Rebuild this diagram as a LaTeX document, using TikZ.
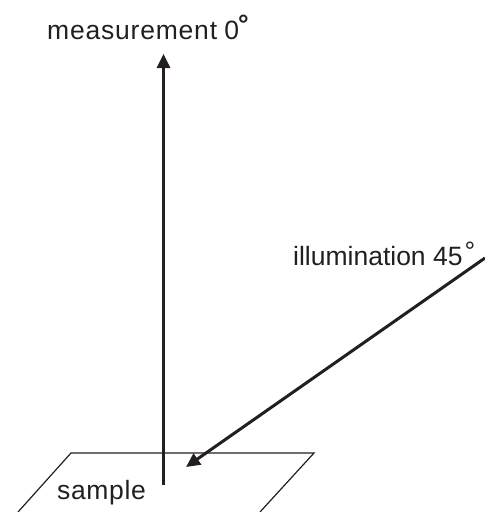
\documentclass[tikz,border=0pt]{standalone}
\usepackage{fontspec}
\setmainfont{Liberation Sans}
\usetikzlibrary{arrows.meta}
\definecolor{ink}{HTML}{231F20}
\tikzset{
  lab/.style={inner sep=0pt,anchor=base west,text=ink,font=\fontsize{26.5}{30}\selectfont},
  plate/.style={draw=ink,line width=1.2pt},
  ray/.style={draw=ink,line width=3pt,-{Triangle[length=14pt,width=13pt]}}
}
\begin{document}
\begin{tikzpicture}[x=1pt,y=-1pt]
\useasboundingbox (0,0) rectangle (485,512);
\coordinate (p1) at (18,512);
\coordinate (p2) at (71,453);
\coordinate (p3) at (314,453);
\coordinate (p4) at (260,512);
\draw[plate] (p1) -- (p2) -- (p3) -- (p4);
\coordinate (mstart) at (163.5,485);
\coordinate (mend) at (163.5,54);
\coordinate (istart) at (485,258);
\coordinate (iend) at (186,467);
\draw[ray] (mstart) -- (mend);
\draw[ray] (istart) -- (iend);
\node[lab] (m) at (47,39) {\addfontfeature{LetterSpace=3}measurement\kern-1pt\ {\addfontfeature{LetterSpace=0}0\kern-1pt\raisebox{6pt}{\bfseries °}}};
\node[lab] (i) at (293,265) {illumination 45\kern2pt\raisebox{5pt}{°}};
\node[lab] (s) at (57,499) {\addfontfeature{LetterSpace=2.5}sample};
\end{tikzpicture}
\end{document}
